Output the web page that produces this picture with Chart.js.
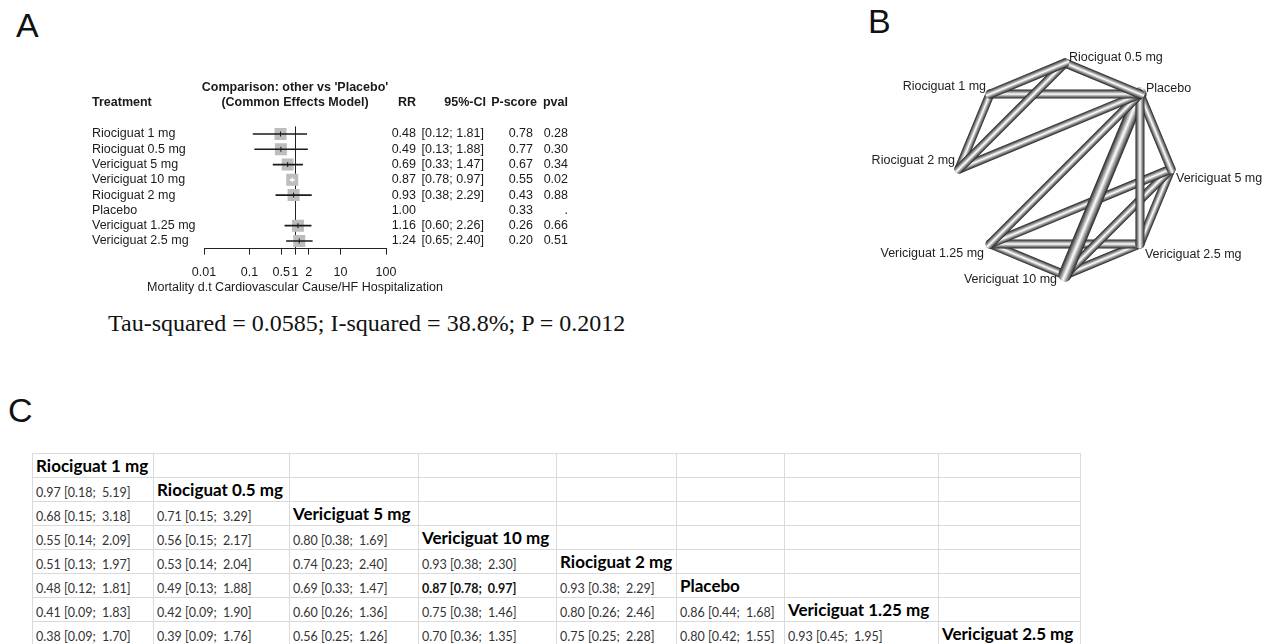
<!DOCTYPE html>
<html>
<head>
<meta charset="utf-8">
<script src="https://cdn.jsdelivr.net/npm/chart.js@4.4.1/dist/chart.umd.min.js"></script>
<style>
html,body{margin:0;padding:0;background:#fff;}
body{width:1263px;height:644px;overflow:hidden;position:relative;font-family:"Liberation Sans",Arial,sans-serif;}
.plabel{position:absolute;font-size:34px;line-height:34px;color:#111;font-family:"Liberation Sans",Arial,sans-serif;}
#forestBox{position:absolute;left:0;top:0;width:600px;height:300px;}
#netBox{position:absolute;left:840px;top:30px;width:423px;height:270px;}
#stats{position:absolute;left:108px;top:309px;font-family:"Liberation Serif","Times New Roman",serif;font-size:24px;line-height:28px;color:#111;white-space:nowrap;}
#league{position:absolute;left:32px;top:453px;border-collapse:collapse;table-layout:fixed;}
#league td{border:1px solid #dadada;height:22px;padding:0 0 1px 3px;white-space:pre;overflow:visible;font-family:Lato,"Open Sans",sans-serif;font-size:12.5px;color:#333;vertical-align:bottom;}
#league td.diag{font-weight:bold;font-size:17px;color:#000;}
#league td.sig{font-weight:bold;color:#111;}
</style>
</head>
<body>
<div class="plabel" style="left:16px;top:8px;">A</div>
<div class="plabel" style="left:868px;top:4px;">B</div>
<div class="plabel" style="left:8px;top:393px;">C</div>
<div id="forestBox"><canvas id="forest" width="600" height="300"></canvas></div>
<div id="netBox"><canvas id="net" width="423" height="270"></canvas></div>
<div id="stats">Tau-squared = 0.0585; I-squared = 38.8%; P = 0.2012</div>
<table id="league"></table>
<script>
// ---------- Panel A data (forest plot) ----------
const treatments = ['Riociguat 1 mg','Riociguat 0.5 mg','Vericiguat 5 mg','Vericiguat 10 mg','Riociguat 2 mg','Placebo','Vericiguat 1.25 mg','Vericiguat 2.5 mg'];
const rr     = [0.48, 0.49, 0.69, 0.87, 0.93, 1.00, 1.16, 1.24];
const ciLow  = [0.12, 0.13, 0.33, 0.78, 0.38, null, 0.60, 0.65];
const ciHigh = [1.81, 1.88, 1.47, 0.97, 2.29, null, 2.26, 2.40];
const pScore = [0.78, 0.77, 0.67, 0.55, 0.43, 0.33, 0.26, 0.20];
const pVal   = ['0.28','0.30','0.34','0.02','0.88','.','0.66','0.51'];
const referenceArm = 'Placebo';
const xTicks = [0.01, 0.1, 0.5, 1, 2, 10, 100];
const xTickLabels = ['0.01','0.1','0.5','1','2','10','100'];
const xTitle = 'Mortality d.t Cardiovascular Cause/HF Hospitalization';

// ---------- Panel B data (network) ----------
const netNodes = ['Riociguat 0.5 mg','Placebo','Vericiguat 5 mg','Vericiguat 2.5 mg','Vericiguat 10 mg','Vericiguat 1.25 mg','Riociguat 2 mg','Riociguat 1 mg'];
const edgeFrom = ['Riociguat 0.5 mg','Riociguat 0.5 mg','Riociguat 0.5 mg','Riociguat 1 mg','Riociguat 1 mg','Riociguat 2 mg','Placebo','Placebo','Placebo','Placebo','Vericiguat 5 mg','Vericiguat 5 mg','Vericiguat 5 mg','Vericiguat 1.25 mg','Vericiguat 1.25 mg','Vericiguat 10 mg'];
const edgeTo   = ['Riociguat 1 mg','Placebo','Riociguat 2 mg','Placebo','Riociguat 2 mg','Placebo','Vericiguat 1.25 mg','Vericiguat 2.5 mg','Vericiguat 5 mg','Vericiguat 10 mg','Vericiguat 1.25 mg','Vericiguat 10 mg','Vericiguat 2.5 mg','Vericiguat 2.5 mg','Vericiguat 10 mg','Vericiguat 2.5 mg'];
const edgeStudies = [1,1,1,1,1,1,1,1,1,2,1,1,1,1,1,1];

// ---------- Panel C data (league table, lower triangle) ----------
const leagueRR   = [[],[0.97],[0.68,0.71],[0.55,0.56,0.80],[0.51,0.53,0.74,0.93],[0.48,0.49,0.69,0.87,0.93],[0.41,0.42,0.60,0.75,0.80,0.86],[0.38,0.39,0.56,0.70,0.75,0.80,0.93]];
const leagueLow  = [[],[0.18],[0.15,0.15],[0.14,0.15,0.38],[0.13,0.14,0.23,0.38],[0.12,0.13,0.33,0.78,0.38],[0.09,0.09,0.26,0.38,0.26,0.44],[0.09,0.09,0.25,0.36,0.25,0.42,0.45]];
const leagueHigh = [[],[5.19],[3.18,3.29],[2.09,2.17,1.69],[1.97,2.04,2.40,2.30],[1.81,1.88,1.47,0.97,2.29],[1.83,1.90,1.36,1.46,2.46,1.68],[1.70,1.76,1.26,1.35,2.28,1.55,1.95]];
const leagueColWidths = [121,136,129,138,120,108,154,142];

Chart.defaults.font.family = '"Liberation Sans", Arial, sans-serif';

// ================= Panel A =================
const SQ_SIDE = 12;
const FONT_REG = '12.5px "Liberation Sans", Arial, sans-serif';
const FONT_BOLD = 'bold 12.5px "Liberation Sans", Arial, sans-serif';
const TXT = '#1a1a1a';

function ciColor(ctx) {
  const i = ctx.dataIndex;
  const xs = ctx.chart.scales.x;
  if (i == null || !xs || ciLow[i] == null) return TXT;
  const w = xs.getPixelForValue(ciHigh[i]) - xs.getPixelForValue(ciLow[i]);
  return (isFinite(w) && w < SQ_SIDE) ? '#ffffff' : TXT;
}

const squares = treatments.map((t, i) => ({ x: t === referenceArm ? null : rr[i], y: t }));
const ciBars = treatments.map((t, i) => (ciLow[i] == null ? null : [ciLow[i], ciHigh[i]]));

const fmt = v => v.toFixed(2);
const forestText = {
  id: 'forestText',
  afterDraw(chart) {
    const { ctx, chartArea, scales: { x, y } } = chart;
    ctx.save();
    ctx.fillStyle = TXT;
    ctx.textBaseline = 'middle';
    const cx = x.getPixelForValue(1);
    ctx.font = FONT_BOLD;
    ctx.textAlign = 'center';
    ctx.fillText("Comparison: other vs 'Placebo'", cx, 88);
    ctx.fillText('(Common Effects Model)', cx, 103);
    ctx.textAlign = 'left';
    ctx.fillText('Treatment', 92, 103);
    ctx.textAlign = 'right';
    ctx.fillText('RR', 416, 103);
    ctx.fillText('95%-CI', 486, 103);
    ctx.fillText('P-score', 537, 103);
    ctx.fillText('pval', 568, 103);
    ctx.font = FONT_REG;
    treatments.forEach((t, i) => {
      const py = y.getPixelForValue(i);
      ctx.textAlign = 'left';
      ctx.fillText(t, 92, py);
      ctx.textAlign = 'right';
      ctx.fillText(fmt(rr[i]), 416, py);
      if (ciLow[i] != null) ctx.fillText('[' + fmt(ciLow[i]) + '; ' + fmt(ciHigh[i]) + ']', 484, py);
      ctx.fillText(fmt(pScore[i]), 533, py);
      ctx.fillText(pVal[i], 568, py);
    });
    // axis title (drawn here so it is not squeezed to the plot width)
    ctx.textAlign = 'center';
    ctx.fillText(xTitle, (chartArea.left + chartArea.right) / 2, chartArea.bottom + 39);
    ctx.restore();
  }
};

new Chart(document.getElementById('forest'), {
  type: 'scatter',
  data: {
    labels: treatments,
    datasets: [
      { type: 'bar', indexAxis: 'y', data: ciBars, backgroundColor: ciColor, barThickness: 1, borderWidth: 0, grouped: false, order: 1 },
      { type: 'scatter', data: squares, pointStyle: 'rect', pointRadius: SQ_SIDE / 2 / Math.SQRT1_2, backgroundColor: '#bdbdbd', borderWidth: 0, order: 3 },
      { type: 'scatter', data: squares, pointStyle: 'line', rotation: 90, pointRadius: 2.5, borderColor: ciColor, borderWidth: 1, order: 0 }
    ]
  },
  options: {
    responsive: false, animation: false, events: [],
    layout: { padding: { left: 204, right: 214, top: 126.35, bottom: 5 } },
    plugins: { legend: { display: false }, tooltip: { enabled: false } },
    scales: {
      x: {
        type: 'logarithmic', min: 0.01, max: 100, position: 'bottom',
        afterBuildTicks: s => { s.ticks = xTicks.map(v => ({ value: v })); },
        afterFit: s => { s.height = 46.4; },
        ticks: { autoSkip: false, maxRotation: 0, minRotation: 0, padding: 10, color: TXT, font: { size: 12.5 },
                 callback: (v, i) => xTickLabels[i] },
        grid: { drawOnChartArea: true, color: c => (c.tick && c.tick.value === 1) ? '#222' : 'rgba(0,0,0,0)',
                tickColor: '#222', tickLength: 6, lineWidth: 1 },
        border: { display: true, color: '#222', width: 1 },
        title: { display: false }
      },
      y: { type: 'category', labels: treatments, offset: true, display: false }
    }
  },
  plugins: [forestText]
});

// ================= Panel B =================
const nodePos = netNodes.map((n, i) => {
  const a = Math.PI / 2 - i * Math.PI / 4;
  return { x: Math.cos(a), y: Math.sin(a) };
});
const posOf = name => nodePos[netNodes.indexOf(name)];

function tube(ctx) {
  const ch = ctx.chart, sx = ch.scales.x, sy = ch.scales.y, ds = ctx.dataset;
  if (!sx || !sy || !ds || !ds.data || ds.data.length < 2) return '#666';
  const a = ds.data[0], b = ds.data[1];
  const x1 = sx.getPixelForValue(a.x), y1 = sy.getPixelForValue(a.y);
  const x2 = sx.getPixelForValue(b.x), y2 = sy.getPixelForValue(b.y);
  if (![x1, y1, x2, y2].every(isFinite)) return '#666';
  const len = Math.hypot(x2 - x1, y2 - y1) || 1;
  const nx = -(y2 - y1) / len, ny = (x2 - x1) / len, h = ds.borderWidth / 2;
  const g = ch.ctx.createLinearGradient(x1 - nx * h, y1 - ny * h, x1 + nx * h, y1 + ny * h);
  g.addColorStop(0, '#262626');
  g.addColorStop(0.1, '#4a4a4a');
  g.addColorStop(0.3, '#a4a4a4');
  g.addColorStop(0.5, '#ffffff');
  g.addColorStop(0.7, '#a4a4a4');
  g.addColorStop(0.9, '#4a4a4a');
  g.addColorStop(1, '#262626');
  return g;
}

const edgeSets = edgeFrom.map((f, k) => ({
  data: [posOf(f), posOf(edgeTo[k])],
  showLine: true, pointRadius: 0, borderWidth: 4.5 + 4.5 * edgeStudies[k],
  borderColor: tube, borderCapStyle: 'round', borderJoinStyle: 'round', clip: false
}));

const netLabelLayout = [
  { dx: 4, dy: -5, align: 'left' }, { dx: 6, dy: -5, align: 'left' }, { dx: 5, dy: 10, align: 'left' },
  { dx: 5, dy: 11, align: 'left' }, { dx: -8, dy: 5, align: 'right' }, { dx: -6, dy: 10, align: 'right' },
  { dx: -4, dy: -8, align: 'right' }, { dx: -4, dy: -7, align: 'right' }
];
const netLabels = {
  id: 'netLabels',
  afterDatasetsDraw(chart) {
    const { ctx, scales: { x, y } } = chart;
    ctx.save();
    ctx.font = FONT_REG;
    ctx.fillStyle = '#222';
    ctx.textBaseline = 'middle';
    netNodes.forEach((n, i) => {
      const L = netLabelLayout[i];
      ctx.textAlign = L.align;
      ctx.fillText(n, x.getPixelForValue(nodePos[i].x) + L.dx, y.getPixelForValue(nodePos[i].y) + L.dy);
    });
    ctx.restore();
  }
};

new Chart(document.getElementById('net'), {
  type: 'scatter',
  data: { datasets: edgeSets },
  options: {
    responsive: false, animation: false, events: [],
    layout: { padding: { left: 105, right: 78, top: 19, bottom: 11 } },
    plugins: { legend: { display: false }, tooltip: { enabled: false } },
    scales: {
      x: { type: 'linear', min: -1.132, max: 1.132, display: false },
      y: { type: 'linear', min: -1.132, max: 1.132, display: false }
    }
  },
  plugins: [netLabels]
});

// ================= Panel C =================
(function buildLeague() {
  const tbl = document.getElementById('league');
  const cg = document.createElement('colgroup');
  leagueColWidths.forEach(w => { const c = document.createElement('col'); c.style.width = w + 'px'; cg.appendChild(c); });
  tbl.appendChild(cg);
  treatments.forEach((t, r) => {
    const tr = document.createElement('tr');
    for (let c = 0; c < treatments.length; c++) {
      const td = document.createElement('td');
      if (c < r) {
        const lo = leagueLow[r][c], hi = leagueHigh[r][c];
        td.textContent = fmt(leagueRR[r][c]) + ' [' + fmt(lo) + ';  ' + fmt(hi) + ']';
        if (hi < 1 || lo > 1) td.className = 'sig';
      } else if (c === r) {
        td.textContent = t;
        td.className = 'diag';
      }
      tr.appendChild(td);
    }
    tbl.appendChild(tr);
  });
})();
</script>
</body>
</html>
